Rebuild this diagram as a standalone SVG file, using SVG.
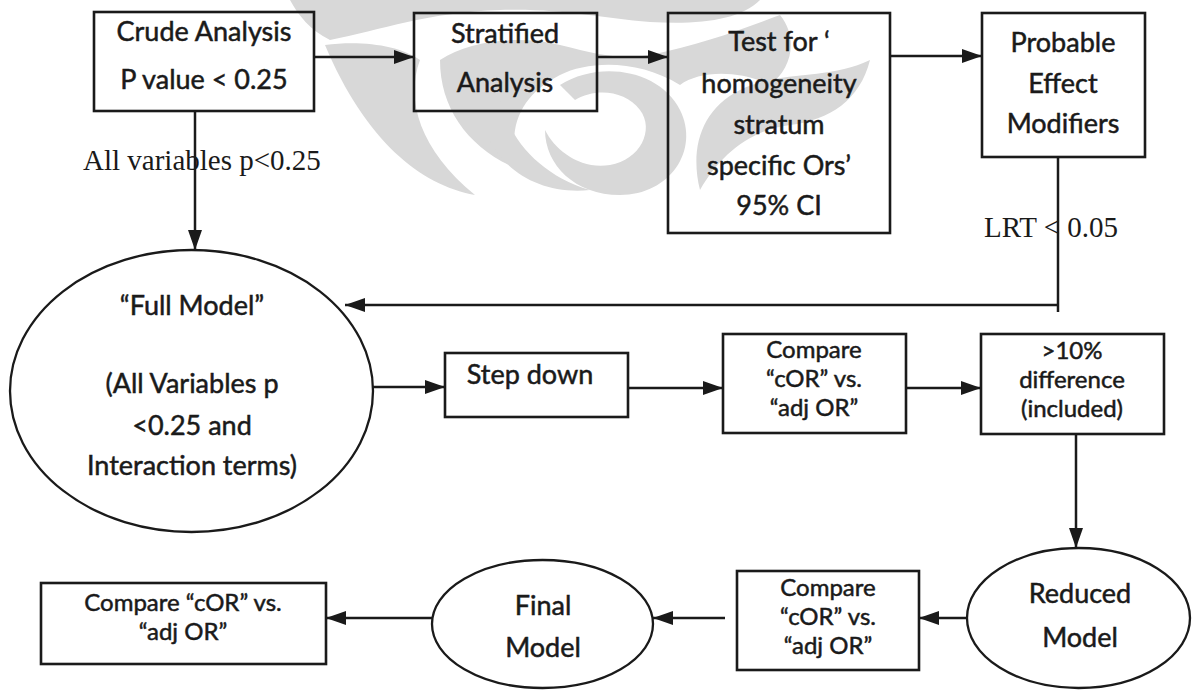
<svg xmlns="http://www.w3.org/2000/svg" width="1193" height="690" viewBox="0 0 1193 690">
<style>
.box{fill:none;stroke:#1a1a1a;stroke-width:2.6}
.ell{fill:none;stroke:#1a1a1a;stroke-width:2.3}
.t{font-family:Lato,"Open Sans",sans-serif;font-size:27px;fill:#1a1a1a;stroke:#1a1a1a;stroke-width:0.5;text-anchor:middle}
.s{font-family:Lato,"Open Sans",sans-serif;font-size:24px;fill:#1a1a1a;stroke:#1a1a1a;stroke-width:0.5;text-anchor:middle}
.lbl{font-family:"Liberation Serif","Times New Roman",serif;font-size:29px;fill:#1a1a1a}
.c{fill:none;stroke:#1a1a1a;stroke-width:2.5}
.wm{fill:#d8d8d8}
</style>
<defs>
<marker id="ah" markerUnits="userSpaceOnUse" markerWidth="20" markerHeight="16" refX="20" refY="8" orient="auto">
<path d="M0,1 L20,8 L0,15 z" fill="#1a1a1a"/>
</marker>
</defs>
<rect width="1193" height="690" fill="#ffffff"/>
<g id="watermark">
<path class="wm" d="M290,0 L760,0 C740,20 700,25 650,22 C600,18 560,8 500,10 C430,12 380,30 330,40 C310,30 298,15 290,0 Z"/>
<path class="wm" d="M325,45 C360,40 400,45 420,60 C405,100 420,150 475,195 C420,185 365,140 325,45 Z"/>
<path class="wm" d="M440,60 C470,40 520,35 560,45 C600,55 620,60 650,55 C700,45 740,30 780,15 C800,40 790,70 770,85 C740,70 700,70 680,85 C640,60 590,60 560,75 C520,95 505,130 520,170 C470,150 440,110 440,60 Z"/>
<path class="wm" d="M560,85 C600,60 660,70 680,110 C700,150 670,195 620,195 C575,195 545,165 545,130 C555,150 580,170 610,165 C640,160 655,130 640,110 C625,90 595,88 575,100 Z"/>
<path class="wm" d="M700,190 C690,150 700,110 740,90 C780,70 830,80 870,60 C860,100 830,120 790,125 C750,130 720,155 700,190 Z"/>
<path class="wm" d="M500,100 C510,140 540,175 590,190 C540,195 500,170 485,130 Z"/>
</g>
<g id="connectors">
<line class="c" x1="314" y1="57" x2="414" y2="57" marker-end="url(#ah)"/>
<line class="c" x1="597" y1="57" x2="668" y2="57" marker-end="url(#ah)"/>
<line class="c" x1="890" y1="56" x2="982" y2="56" marker-end="url(#ah)"/>
<line class="c" x1="195" y1="111" x2="195" y2="250" marker-end="url(#ah)"/>
<polyline class="c" points="1058,157 1058,312"/>
<line class="c" x1="1059" y1="305" x2="345" y2="305" marker-end="url(#ah)"/>
<line class="c" x1="373" y1="387" x2="445" y2="387" marker-end="url(#ah)"/>
<line class="c" x1="628" y1="388" x2="723" y2="388" marker-end="url(#ah)"/>
<line class="c" x1="906" y1="388" x2="981" y2="388" marker-end="url(#ah)"/>
<line class="c" x1="1076" y1="434" x2="1076" y2="548" marker-end="url(#ah)"/>
<line class="c" x1="967" y1="618" x2="919" y2="618" marker-end="url(#ah)"/>
<line class="c" x1="725" y1="618" x2="653" y2="618" marker-end="url(#ah)"/>
<line class="c" x1="432" y1="618" x2="326" y2="618" marker-end="url(#ah)"/>
</g>
<g id="labels">
<text class="lbl" x="83" y="170">All variables p&lt;0.25</text>
<text class="lbl" x="984" y="237">LRT &lt; 0.05</text>
</g>
<g id="crude">
<rect class="box" x="94" y="12" width="220" height="99"/>
<text class="t" x="204" y="41">Crude Analysis</text>
<text class="t" x="204" y="89">P value &lt; 0.25</text>
</g>
<g id="stratified">
<rect class="box" x="414" y="13" width="183" height="98"/>
<text class="t" x="505" y="43">Stratified</text>
<text class="t" x="505" y="92">Analysis</text>
</g>
<g id="homogeneity">
<rect class="box" x="668" y="13" width="222" height="220"/>
<text class="t" x="779" y="51">Test for ‘</text>
<text class="t" x="779" y="93">homogeneity</text>
<text class="t" x="779" y="134">stratum</text>
<text class="t" x="779" y="175">specific Ors’</text>
<text class="t" x="779" y="215">95% CI</text>
</g>
<g id="modifiers">
<rect class="box" x="982" y="13" width="163" height="144"/>
<text class="t" x="1063" y="52">Probable</text>
<text class="t" x="1063" y="93">Effect</text>
<text class="t" x="1063" y="133">Modifiers</text>
</g>
<g id="fullmodel">
<ellipse class="ell" cx="191.5" cy="391" rx="181.5" ry="141"/>
<text class="t" x="192" y="315">“Full Model”</text>
<text class="t" x="192" y="393">(All Variables p</text>
<text class="t" x="192" y="435">&lt;0.25 and</text>
<text class="t" x="192" y="475">Interaction terms)</text>
</g>
<g id="stepdown">
<rect class="box" x="445" y="353" width="183" height="64"/>
<text class="t" x="530" y="384">Step down</text>
</g>
<g id="compare1">
<rect class="box" x="723" y="334" width="183" height="99"/>
<text class="s" x="814" y="358">Compare</text>
<text class="s" x="814" y="387">“cOR” vs.</text>
<text class="s" x="814" y="416">“adj OR”</text>
</g>
<g id="difference">
<rect class="box" x="981" y="334" width="183" height="100"/>
<text class="s" x="1072" y="359">&gt;10%</text>
<text class="s" x="1072" y="388">difference</text>
<text class="s" x="1072" y="417">(included)</text>
</g>
<g id="reduced">
<ellipse class="ell" cx="1078.5" cy="618" rx="111.5" ry="70"/>
<text class="t" x="1080" y="603">Reduced</text>
<text class="t" x="1080" y="647">Model</text>
</g>
<g id="compare2">
<rect class="box" x="737" y="571" width="182" height="99"/>
<text class="s" x="828" y="596">Compare</text>
<text class="s" x="828" y="625">“cOR” vs.</text>
<text class="s" x="828" y="654">“adj OR”</text>
</g>
<g id="final">
<ellipse class="ell" cx="542.5" cy="624" rx="110.5" ry="64"/>
<text class="t" x="543" y="615">Final</text>
<text class="t" x="543" y="657">Model</text>
</g>
<g id="compare3">
<rect class="box" x="41" y="583" width="285" height="81"/>
<text class="s" x="183" y="611">Compare “cOR” vs.</text>
<text class="s" x="183" y="640">“adj OR”</text>
</g>
</svg>
